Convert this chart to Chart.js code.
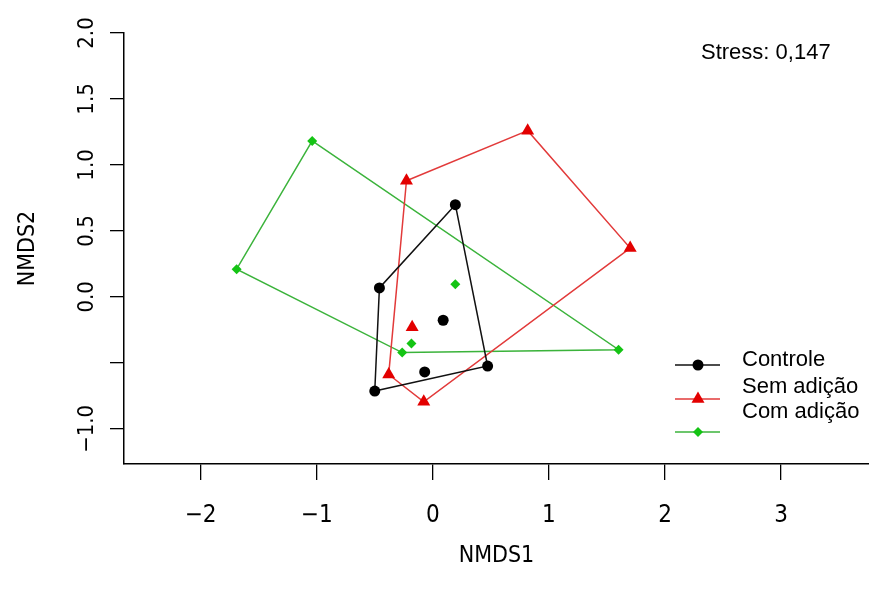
<!DOCTYPE html>
<html>
<head>
<meta charset="utf-8">
<script src="https://cdn.jsdelivr.net/npm/chart.js@4/dist/chart.umd.min.js"></script>
<style>
  html, body { margin: 0; padding: 0; background: #fff; }
  #wrap { width: 869px; height: 590px; }
</style>
</head>
<body>
<div id="wrap"><canvas id="chart" width="869" height="590"></canvas></div>
<script>
// groups
var groupNames = ["Controle", "Sem adição", "Com adição"];

// NMDS scores, hull vertices listed first and in drawing order
var controleX = [0.194, 0.472, -0.500, -0.460, -0.070, 0.089];
var controleY = [0.699, -0.524, -0.714, 0.068, -0.569, -0.177];
var controleHull = [0, 1, 2, 3];

var semX = [-0.227, 0.817, 1.700, -0.078, -0.380, -0.178];
var semY = [0.880, 1.260, 0.370, -0.795, -0.588, -0.231];
var semHull = [0, 1, 2, 3, 4];

var comX = [-1.039, 1.600, -0.264, -1.690, -0.184, 0.194];
var comY = [1.182, -0.400, -0.422, 0.210, -0.354, 0.096];
var comHull = [0, 1, 2, 3];

var xTicks = [-2, -1, 0, 1, 2, 3];
var yTicks = [-1, -0.5, 0, 0.5, 1, 1.5, 2];
var stressLabel = "Stress: 0,147";

var MINUS = "\u2212";
var axisFont = "'Liberation Sans Narrow', 'DejaVu Sans Condensed', 'Liberation Sans', sans-serif";
var textFont = "'Liberation Sans', Arial, sans-serif";

function pts(xs, ys) {
    return xs.map(function(x, i) { return {x: x, y: ys[i]}; });
}
function hull(xs, ys, idx) {
    var p = idx.map(function(i) { return {x: xs[i], y: ys[i]}; });
    p.push(p[0]);
    return p;
}
function fmt(v, digits) {
    var s = Math.abs(v).toFixed(digits);
    return v < 0 ? MINUS + s : s;
}

var colors = ["#000000", "#e30000", "#14c414"];
var lineColors = ["#111111", "#e23a3a", "#3bb33b"];
var styles = ["circle", "triangle", "rectRot"];
var radii = [5.5, 7.5, 5];

var groupData = [
    [controleX, controleY, controleHull],
    [semX, semY, semHull],
    [comX, comY, comHull]
];

var datasets = [];
groupData.forEach(function(g, k) {
    datasets.push({
        label: groupNames[k] + " hull",
        data: hull(g[0], g[1], g[2]),
        showLine: true,
        borderColor: lineColors[k],
        borderWidth: 1.5,
        pointRadius: 0,
        fill: false,
        order: 2
    });
});
groupData.forEach(function(g, k) {
    datasets.push({
        label: groupNames[k],
        data: pts(g[0], g[1]),
        showLine: false,
        pointStyle: styles[k],
        pointRadius: radii[k],
        pointBackgroundColor: colors[k],
        pointBorderColor: colors[k],
        pointBorderWidth: 0,
        order: 1
    });
});

// stress text + R style legend
var extras = {
    id: "extras",
    afterDraw: function(chart) {
        var ctx = chart.ctx;
        ctx.save();
        ctx.fillStyle = "#000";
        ctx.font = "22px " + textFont;
        ctx.textBaseline = "middle";
        ctx.textAlign = "left";
        ctx.fillText(stressLabel, 701, 53);

        var textY = [360, 387, 412];
        groupNames.forEach(function(name, k) {
            ctx.fillText(name, 742, textY[k]);
        });

        var markY = [365, 399, 432];
        markY.forEach(function(y, k) {
            ctx.strokeStyle = lineColors[k];
            ctx.lineWidth = 1.5;
            ctx.beginPath();
            ctx.moveTo(675, y);
            ctx.lineTo(720, y);
            ctx.stroke();
            ctx.fillStyle = colors[k];
            ctx.beginPath();
            var cx = 698, r = radii[k];
            if (k === 0) {
                ctx.arc(cx, y, r, 0, Math.PI * 2);
            } else if (k === 1) {
                var a = 0;
                ctx.moveTo(cx + Math.sin(a) * r, y - Math.cos(a) * r);
                a += 2 * Math.PI / 3;
                ctx.lineTo(cx + Math.sin(a) * r, y - Math.cos(a) * r);
                a += 2 * Math.PI / 3;
                ctx.lineTo(cx + Math.sin(a) * r, y - Math.cos(a) * r);
                ctx.closePath();
            } else {
                ctx.moveTo(cx - r, y);
                ctx.lineTo(cx, y - r);
                ctx.lineTo(cx + r, y);
                ctx.lineTo(cx, y + r);
                ctx.closePath();
            }
            ctx.fill();
        });
        ctx.restore();
    }
};

var ctx = document.getElementById("chart");
new Chart(ctx, {
    type: "scatter",
    data: {datasets: datasets},
    plugins: [extras],
    options: {
        responsive: false,
        animation: false,
        devicePixelRatio: 1,
        layout: {autoPadding: false, padding: {top: 33, right: 0, bottom: 0, left: 0}},
        plugins: {
            legend: {display: false},
            tooltip: {enabled: false}
        },
        scales: {
            x: {
                type: "linear",
                position: "bottom",
                min: -2.66,
                max: 3.757,
                afterBuildTicks: function(scale) {
                    scale.ticks = xTicks.map(function(v) { return {value: v}; });
                },
                afterFit: function(scale) {
                    scale.height = 126;
                    scale.paddingLeft = 0;
                    scale.paddingRight = 0;
                },
                grid: {drawOnChartArea: false, drawTicks: true, tickLength: 16, color: "#000", lineWidth: 1.3},
                border: {display: true, color: "#000", width: 1.5},
                ticks: {
                    autoSkip: false,
                    maxRotation: 0,
                    minRotation: 0,
                    padding: 21,
                    color: "#000",
                    font: {family: axisFont, size: 24},
                    callback: function(v) { return fmt(v, 0); }
                },
                title: {
                    display: true,
                    text: "NMDS1",
                    color: "#000",
                    font: {family: axisFont, size: 23},
                    padding: {top: 0, bottom: 20}
                }
            },
            y: {
                type: "linear",
                position: "left",
                min: -1.2665,
                max: 2.0,
                afterBuildTicks: function(scale) {
                    scale.ticks = yTicks.map(function(v) { return {value: v}; });
                },
                afterFit: function(scale) {
                    scale.width = 124;
                    scale.paddingTop = 0;
                    scale.paddingBottom = 0;
                },
                grid: {drawOnChartArea: false, drawTicks: true, tickLength: 14, color: "#000", lineWidth: 1.3},
                border: {display: true, color: "#000", width: 1.5},
                ticks: {
                    autoSkip: false,
                    minRotation: 90,
                    maxRotation: 90,
                    crossAlign: "center",
                    padding: -1,
                    color: "#000",
                    font: {family: axisFont, size: 22},
                    callback: function(v) { return v === -0.5 ? "" : fmt(v, 1); }
                },
                title: {
                    display: true,
                    text: "NMDS2",
                    color: "#000",
                    font: {family: axisFont, size: 23},
                    padding: {top: 14, bottom: 0}
                }
            }
        }
    }
});
</script>
</body>
</html>
